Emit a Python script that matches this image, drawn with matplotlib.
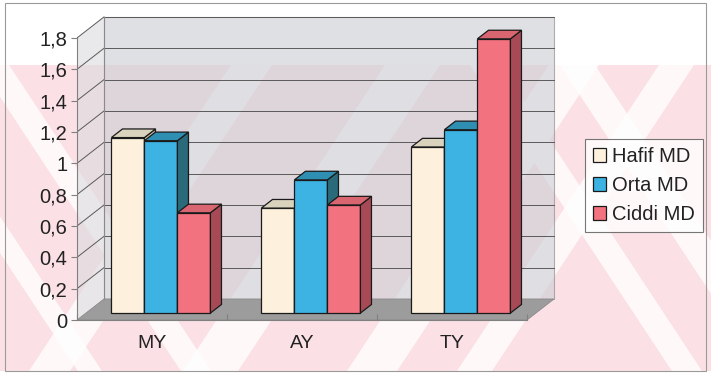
import numpy as np
import matplotlib.pyplot as plt
from matplotlib.patches import Polygon, Rectangle

plt.rcParams['font.family'] = ['Liberation Sans', 'DejaVu Sans']

categories = ['MY', 'AY', 'TY']
series_names = ['Hafif MD', 'Orta MD', 'Ciddi MD']
hafif = [1.12, 0.67, 1.06]
orta = [1.10, 0.85, 1.17]
ciddi = [0.64, 0.69, 1.75]
yticks = [0, 0.2, 0.4, 0.6, 0.8, 1.0, 1.2, 1.4, 1.6, 1.8]
ytick_labels = ['0', '0,2', '0,4', '0,6', '0,8', '1', '1,2', '1,4', '1,6', '1,8']

# colours per series: front, top, side
front_cols = ['#fdf1de', '#3cb3e2', '#f2737f']
top_cols = ['#d9d3bd', '#2f8fb2', '#d8656f']
side_cols = ['#c8bfa5', '#2a6a7a', '#a84a56']

W, H = 711, 374
fig = plt.figure(figsize=(W / 100, H / 100), dpi=100)
fig.patch.set_facecolor('white')


def fx(px):
    return px / W


def fy(py):
    return 1 - py / H


# faint watermark behind the chart
wm = Rectangle((0, fy(371)), 1, fy(65) - fy(371), transform=fig.transFigure,
               facecolor='#fbe1e5', edgecolor='none', zorder=-2)
fig.patches.append(wm)
stripes = []
k = 0.66 * (374 - 65)
for xa, xb in [(27, 68), (181, 236), (345, 395), (455, 490)]:
    stripes.append([(xa, 374), (xb, 374), (xb + k, 65), (xa + k, 65)])
for xa, xb in [(-21, 9), (-124, -100), (560, 595), (470, 500)]:
    stripes.append([(xa, 65), (xb, 65), (xb + k, 374), (xa + k, 374)])
for s in stripes:
    p = Polygon([(fx(x), fy(y)) for x, y in s], closed=True, transform=fig.transFigure,
                facecolor='white', edgecolor='none', alpha=0.8, zorder=-1)
    fig.patches.append(p)
    p.set_clip_path(wm)

ax = fig.add_axes([fx(77), fy(320), fx(560) - fx(77), (320 - 10) / H])
ax.patch.set_alpha(0)
ax.set_xlim(-0.5, -0.5 + 483 / 150)
ax.set_ylim(0, 310 / 156.7)

DX, DY = 27 / 150, 21 / 156.7
ymax = 1.8
x0, x1 = -0.5, 2.5

# walls and floor
back = Polygon([(x0 + DX, DY), (x1 + DX, DY), (x1 + DX, ymax + DY), (x0 + DX, ymax + DY)],
               facecolor='#cfd0d6', edgecolor='#8a8a8a', lw=0.8, alpha=0.65, zorder=1)
side = Polygon([(x0, 0), (x0 + DX, DY), (x0 + DX, ymax + DY), (x0, ymax)],
               facecolor='#d8d8dc', edgecolor='none', alpha=0.55, zorder=1)
floor = Polygon([(x0, 0), (x1, 0), (x1 + DX, DY), (x0 + DX, DY)],
                facecolor='#9c9c9c', edgecolor='#8a8a8a', lw=0.6, zorder=1)
for p in (back, side, floor):
    ax.add_patch(p)

for v in yticks[1:]:
    ax.plot([x0 + DX, x1 + DX], [v + DY, v + DY], color='#5a5a5a', lw=0.7, zorder=2)
    ax.plot([x0, x0 + DX], [v, v + DY], color='#5a5a5a', lw=0.7, zorder=2)
ax.plot([x0 + DX, x0 + DX], [DY, ymax + DY], color='#8a8a8a', lw=0.8, zorder=2)

# 3d columns
values = [hafif, orta, ciddi]
bw = 0.22
f0, dep = 0.33, 0.41
xc = np.arange(len(categories))
handles = []
for i, vals in enumerate(values):
    left = xc - 1.5 * bw + i * bw + f0 * DX
    base = f0 * DY
    bars = ax.bar(left, vals, width=bw, bottom=base, align='edge',
                  color=front_cols[i], edgecolor='#1a1a1a', lw=0.9, zorder=3 + i)
    handles.append(Rectangle((0, 0), 1, 1, facecolor=front_cols[i], edgecolor='#1a1a1a', lw=0.9))
    for b in bars:
        bx, by, bwid, bh = b.get_x(), b.get_y(), b.get_width(), b.get_height()
        top = by + bh
        tp = Polygon([(bx, top), (bx + bwid, top), (bx + bwid + dep * DX, top + dep * DY),
                      (bx + dep * DX, top + dep * DY)], facecolor=top_cols[i],
                     edgecolor='#1a1a1a', lw=0.9, zorder=3 + i)
        sp = Polygon([(bx + bwid, by), (bx + bwid + dep * DX, by + dep * DY),
                      (bx + bwid + dep * DX, top + dep * DY), (bx + bwid, top)],
                     facecolor=side_cols[i], edgecolor='#1a1a1a', lw=0.9, zorder=3 + i)
        ax.add_patch(sp)
        ax.add_patch(tp)

# axes
for s in ('top', 'right'):
    ax.spines[s].set_visible(False)
ax.spines['left'].set_bounds(0, ymax)
ax.spines['bottom'].set_bounds(x0, x1)
ax.spines['left'].set_color('#808080')
ax.spines['bottom'].set_color('#808080')
ax.set_yticks(yticks)
ax.set_yticklabels(ytick_labels)
ax.tick_params(axis='y', length=4, color='#808080', labelsize=14.5, labelcolor='#222222', pad=3)
ax.set_xticks([-0.5, 0.5, 1.5, 2.5])
ax.set_xticklabels([])
ax.tick_params(axis='x', which='major', length=4, color='#808080', direction='in')
ax.set_xticks(xc, minor=True)
ax.set_xticklabels(categories, minor=True)
ax.tick_params(axis='x', which='minor', length=0, labelsize=14, labelcolor='#222222', pad=11)

leg = fig.legend(handles, series_names, loc='upper left', bbox_to_anchor=(fx(585), fy(139)),
                 frameon=True, fancybox=False, edgecolor='#555555', fontsize=14.5,
                 handlelength=0.65, handleheight=0.65, handletextpad=0.3,
                 borderpad=0.4, labelspacing=0.5, borderaxespad=0)
leg.get_frame().set_linewidth(0.8)
for t in leg.get_texts():
    t.set_color('#222222')

fig.patches.append(Rectangle((fx(5), fy(371)), fx(706) - fx(5), fy(3) - fy(371),
                             transform=fig.transFigure, facecolor='none',
                             edgecolor='#9a9a9a', lw=0.8, zorder=5))

fig.savefig('out.png', dpi=100)
